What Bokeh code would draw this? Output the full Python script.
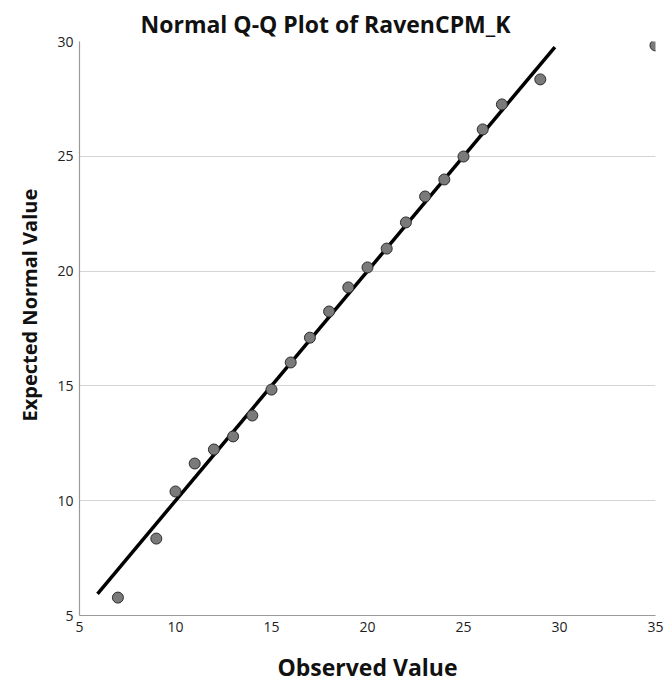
from bokeh.plotting import figure
from bokeh.models import Range1d, FixedTicker, ColumnDataSource, Title
from bokeh.embed import file_html
from bokeh.resources import INLINE

observed = [7, 9, 10, 11, 12, 13, 14, 15, 16, 17, 18, 19, 20, 21, 22, 23, 24, 25, 26, 27, 29, 35]
expected = [5.78, 8.35, 10.4, 11.62, 12.23, 12.8, 13.71, 14.84, 16.02, 17.1, 18.24, 19.29,
            20.16, 20.98, 22.12, 23.25, 23.99, 24.99, 26.17, 27.26, 28.35, 29.83]
line_x = [5.94, 29.76]
line_y = [5.94, 29.76]
ticks = [5, 10, 15, 20, 25, 30, 35]

FONT = "Open Sans"

p = figure(width=666, height=685, output_backend="svg", toolbar_location=None,
           x_range=Range1d(5, 35), y_range=Range1d(5, 30),
           min_border_left=79, min_border_right=11, min_border_top=41, min_border_bottom=70,
           title="Normal Q-Q Plot of RavenCPM_K")
p.outline_line_color = None
p.background_fill_color = "white"
p.border_fill_color = "white"

p.title.text_font = FONT
p.title.text_font_size = "23px"
p.title.text_font_style = "bold"
p.title.text_color = "#111111"
p.title.align = "left"
p.title.offset = 61
p.title.standoff = 4

p.xgrid.grid_line_color = None
p.ygrid.grid_line_color = "#d4d4d4"
p.ygrid.grid_line_width = 1.2

for ax in (p.xaxis[0], p.yaxis[0]):
    ax.ticker = FixedTicker(ticks=ticks)
    ax.axis_line_color = "#9a9a9a"
    ax.axis_line_width = 1.2
    ax.major_tick_in = 0
    ax.major_tick_out = 0
    ax.minor_tick_in = 0
    ax.minor_tick_out = 0
    ax.major_label_text_font = FONT
    ax.major_label_text_font_size = "14px"
    ax.major_label_text_color = "#222222"
    ax.axis_label_text_font = FONT
    ax.axis_label_text_font_size = "23px"
    ax.axis_label_text_font_style = "bold"
    ax.axis_label_text_color = "#111111"

p.xaxis.axis_label = "Observed Value"
p.xaxis.major_label_standoff = 6
p.yaxis.major_label_standoff = 6
p.xaxis.axis_label_standoff = 16

ytitle = Title(text="Expected Normal Value", align="left", offset=194,
               text_font=FONT, text_font_size="20px", text_font_style="bold",
               text_color="#111111", standoff=24)
p.add_layout(ytitle, "left")

p.line(line_x, line_y, line_color="black", line_width=3.5)

src = ColumnDataSource(dict(x=observed, y=expected))
p.scatter("x", "y", source=src, size=11, fill_color="#7a7a7a",
          line_color="#2a2a2a", line_width=1)

open("out.html", "w").write(file_html(p, INLINE))
